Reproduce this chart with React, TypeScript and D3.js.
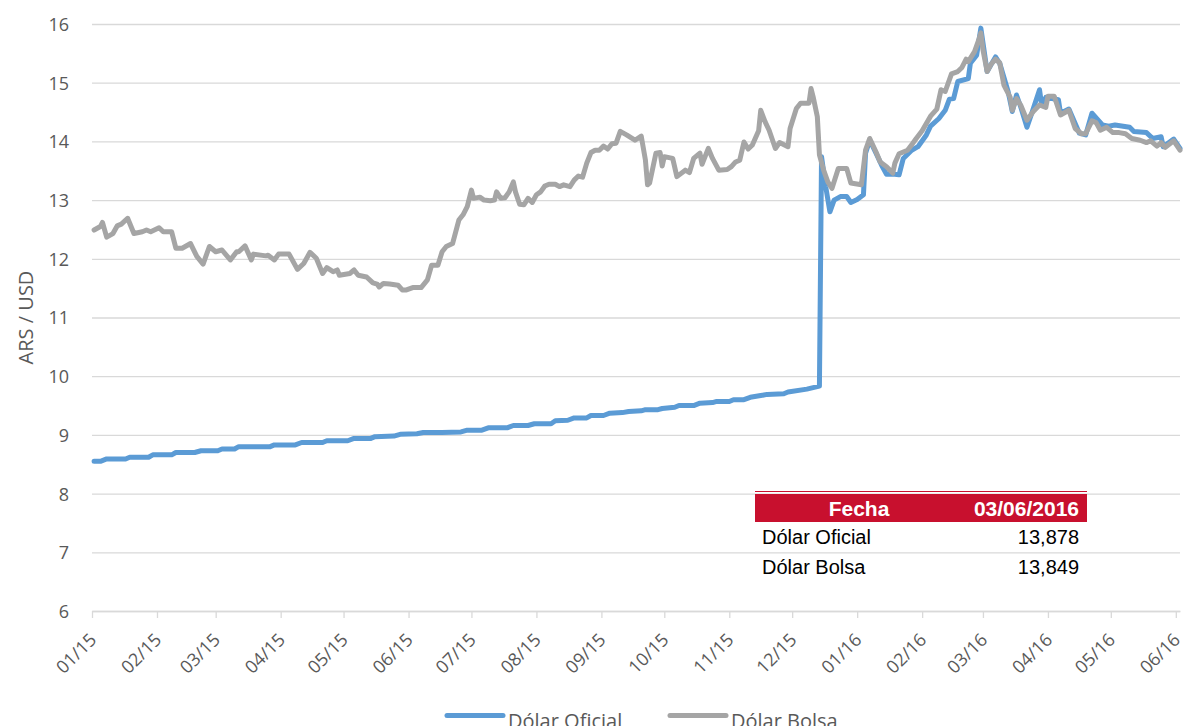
import { useEffect, useRef } from "react";
import * as d3 from "d3";

// Dólar Oficial (ARS per USD)
const oficial: [string, number][] = [
  ["2015-01-02", 8.55], ["2015-01-05", 8.55], ["2015-01-08", 8.59], ["2015-01-17", 8.59],
  ["2015-01-19", 8.62], ["2015-01-28", 8.62], ["2015-01-30", 8.66], ["2015-02-08", 8.66],
  ["2015-02-10", 8.70], ["2015-02-19", 8.70], ["2015-02-22", 8.73], ["2015-03-02", 8.73],
  ["2015-03-04", 8.76], ["2015-03-10", 8.76], ["2015-03-12", 8.80], ["2015-03-27", 8.80],
  ["2015-03-29", 8.83], ["2015-04-08", 8.83], ["2015-04-11", 8.87], ["2015-04-21", 8.87],
  ["2015-04-23", 8.90], ["2015-05-03", 8.90], ["2015-05-06", 8.94], ["2015-05-14", 8.94],
  ["2015-05-16", 8.97], ["2015-05-25", 8.98], ["2015-05-28", 9.01], ["2015-06-05", 9.02],
  ["2015-06-08", 9.04], ["2015-06-17", 9.04], ["2015-06-26", 9.05], ["2015-06-29", 9.08],
  ["2015-07-06", 9.08], ["2015-07-09", 9.12], ["2015-07-18", 9.12], ["2015-07-21", 9.16],
  ["2015-07-28", 9.16], ["2015-07-31", 9.19], ["2015-08-08", 9.19], ["2015-08-10", 9.24],
  ["2015-08-16", 9.25], ["2015-08-19", 9.29], ["2015-08-25", 9.29], ["2015-08-27", 9.33],
  ["2015-09-02", 9.33], ["2015-09-05", 9.37], ["2015-09-11", 9.38], ["2015-09-14", 9.40],
  ["2015-09-20", 9.41], ["2015-09-22", 9.43], ["2015-09-28", 9.43], ["2015-09-30", 9.45],
  ["2015-10-06", 9.47], ["2015-10-08", 9.50], ["2015-10-15", 9.50], ["2015-10-18", 9.54],
  ["2015-10-24", 9.55], ["2015-10-26", 9.57], ["2015-11-01", 9.57], ["2015-11-03", 9.60],
  ["2015-11-08", 9.60], ["2015-11-11", 9.64], ["2015-11-16", 9.67], ["2015-11-19", 9.69],
  ["2015-11-27", 9.70], ["2015-11-29", 9.73], ["2015-12-08", 9.78], ["2015-12-14", 9.83],
  ["2015-12-15", 13.74], ["2015-12-17", 13.23], ["2015-12-19", 12.80], ["2015-12-21", 13.00],
  ["2015-12-24", 13.06], ["2015-12-27", 13.06], ["2015-12-29", 12.96], ["2016-01-01", 13.01],
  ["2016-01-04", 13.09], ["2016-01-05", 13.80], ["2016-01-07", 14.02], ["2016-01-10", 13.80],
  ["2016-01-13", 13.57], ["2016-01-15", 13.44], ["2016-01-19", 13.44], ["2016-01-21", 13.43],
  ["2016-01-23", 13.71], ["2016-01-27", 13.85], ["2016-01-30", 13.91], ["2016-02-03", 14.11],
  ["2016-02-05", 14.26], ["2016-02-09", 14.39], ["2016-02-12", 14.53], ["2016-02-14", 14.72],
  ["2016-02-16", 14.73], ["2016-02-18", 15.02], ["2016-02-23", 15.07], ["2016-02-24", 15.33],
  ["2016-02-27", 15.47], ["2016-02-29", 15.93], ["2016-03-03", 15.19], ["2016-03-07", 15.44],
  ["2016-03-09", 15.33], ["2016-03-13", 14.85], ["2016-03-15", 14.51], ["2016-03-17", 14.79],
  ["2016-03-19", 14.59], ["2016-03-22", 14.24], ["2016-03-24", 14.45], ["2016-03-28", 14.88],
  ["2016-03-29", 14.62], ["2016-03-31", 14.75], ["2016-04-06", 14.71], ["2016-04-07", 14.48],
  ["2016-04-11", 14.55], ["2016-04-16", 14.14], ["2016-04-19", 14.11], ["2016-04-22", 14.48],
  ["2016-04-27", 14.28], ["2016-04-30", 14.26], ["2016-05-03", 14.28], ["2016-05-10", 14.24],
  ["2016-05-12", 14.17], ["2016-05-18", 14.15], ["2016-05-21", 14.05], ["2016-05-25", 14.08],
  ["2016-05-26", 13.91], ["2016-05-31", 14.04], ["2016-06-03", 13.88],
];

// Dólar Bolsa (ARS per USD)
const bolsa: [string, number][] = [
  ["2015-01-02", 12.49], ["2015-01-05", 12.55], ["2015-01-06", 12.62], ["2015-01-08", 12.37],
  ["2015-01-11", 12.43], ["2015-01-13", 12.56], ["2015-01-15", 12.59], ["2015-01-18", 12.69],
  ["2015-01-21", 12.43], ["2015-01-25", 12.46], ["2015-01-27", 12.49], ["2015-01-29", 12.46],
  ["2015-02-02", 12.53], ["2015-02-04", 12.46], ["2015-02-08", 12.46], ["2015-02-10", 12.18],
  ["2015-02-13", 12.18], ["2015-02-17", 12.26], ["2015-02-20", 12.04], ["2015-02-23", 11.91],
  ["2015-02-26", 12.21], ["2015-03-01", 12.12], ["2015-03-04", 12.15], ["2015-03-08", 11.98],
  ["2015-03-11", 12.12], ["2015-03-12", 12.12], ["2015-03-15", 12.22], ["2015-03-18", 11.98],
  ["2015-03-19", 12.08], ["2015-03-25", 12.05], ["2015-03-26", 12.06], ["2015-03-29", 11.98],
  ["2015-03-31", 12.08], ["2015-04-05", 12.08], ["2015-04-09", 11.82], ["2015-04-12", 11.92],
  ["2015-04-15", 12.11], ["2015-04-18", 12.01], ["2015-04-21", 11.75], ["2015-04-23", 11.85],
  ["2015-04-26", 11.78], ["2015-04-28", 11.81], ["2015-04-29", 11.72], ["2015-05-04", 11.75],
  ["2015-05-06", 11.81], ["2015-05-08", 11.72], ["2015-05-12", 11.69], ["2015-05-15", 11.59],
  ["2015-05-17", 11.57], ["2015-05-18", 11.52], ["2015-05-20", 11.58], ["2015-05-23", 11.57],
  ["2015-05-27", 11.55], ["2015-05-29", 11.47], ["2015-05-31", 11.47], ["2015-06-03", 11.51],
  ["2015-06-07", 11.51], ["2015-06-10", 11.64], ["2015-06-12", 11.89], ["2015-06-15", 11.89],
  ["2015-06-17", 12.12], ["2015-06-19", 12.21], ["2015-06-22", 12.26], ["2015-06-25", 12.66],
  ["2015-06-27", 12.75], ["2015-06-29", 12.89], ["2015-07-01", 13.17], ["2015-07-02", 13.03],
  ["2015-07-05", 13.05], ["2015-07-07", 13.00], ["2015-07-10", 12.99], ["2015-07-12", 13.00],
  ["2015-07-13", 13.14], ["2015-07-15", 13.03], ["2015-07-17", 13.04], ["2015-07-19", 13.14],
  ["2015-07-21", 13.31], ["2015-07-22", 13.14], ["2015-07-24", 12.93], ["2015-07-26", 12.92],
  ["2015-07-28", 13.03], ["2015-07-30", 12.96], ["2015-08-01", 13.09], ["2015-08-03", 13.14],
  ["2015-08-05", 13.24], ["2015-08-07", 13.27], ["2015-08-10", 13.27], ["2015-08-12", 13.23],
  ["2015-08-14", 13.26], ["2015-08-17", 13.23], ["2015-08-19", 13.34], ["2015-08-21", 13.41],
  ["2015-08-23", 13.39], ["2015-08-25", 13.63], ["2015-08-27", 13.81], ["2015-08-29", 13.85],
  ["2015-08-31", 13.85], ["2015-09-02", 13.92], ["2015-09-04", 13.87], ["2015-09-06", 13.96],
  ["2015-09-08", 13.97], ["2015-09-10", 14.17], ["2015-09-13", 14.11], ["2015-09-17", 14.02],
  ["2015-09-20", 14.09], ["2015-09-22", 13.68], ["2015-09-23", 13.26], ["2015-09-24", 13.29],
  ["2015-09-27", 13.80], ["2015-09-29", 13.81], ["2015-09-30", 13.58], ["2015-10-01", 13.74],
  ["2015-10-05", 13.71], ["2015-10-07", 13.40], ["2015-10-11", 13.51], ["2015-10-13", 13.47],
  ["2015-10-15", 13.71], ["2015-10-18", 13.80], ["2015-10-19", 13.61], ["2015-10-22", 13.88],
  ["2015-10-24", 13.71], ["2015-10-27", 13.51], ["2015-10-31", 13.52], ["2015-11-02", 13.57],
  ["2015-11-04", 13.65], ["2015-11-06", 13.68], ["2015-11-08", 13.99], ["2015-11-10", 13.87],
  ["2015-11-12", 13.94], ["2015-11-15", 14.18], ["2015-11-16", 14.53], ["2015-11-18", 14.34],
  ["2015-11-20", 14.19], ["2015-11-23", 13.88], ["2015-11-25", 13.98], ["2015-11-29", 13.91],
  ["2015-11-30", 14.22], ["2015-12-03", 14.56], ["2015-12-05", 14.65], ["2015-12-09", 14.65],
  ["2015-12-10", 14.90], ["2015-12-11", 14.76], ["2015-12-13", 14.42], ["2015-12-14", 13.77],
  ["2015-12-16", 13.51], ["2015-12-18", 13.31], ["2015-12-20", 13.20], ["2015-12-23", 13.54],
  ["2015-12-27", 13.54], ["2015-12-29", 13.29], ["2016-01-03", 13.26], ["2016-01-05", 13.85],
  ["2016-01-07", 14.05], ["2016-01-10", 13.82], ["2016-01-12", 13.65], ["2016-01-15", 13.57],
  ["2016-01-18", 13.46], ["2016-01-19", 13.63], ["2016-01-21", 13.79], ["2016-01-25", 13.85],
  ["2016-01-27", 13.94], ["2016-01-29", 14.04], ["2016-02-01", 14.18], ["2016-02-05", 14.43],
  ["2016-02-08", 14.55], ["2016-02-10", 14.88], ["2016-02-12", 14.85], ["2016-02-15", 15.15],
  ["2016-02-18", 15.19], ["2016-02-20", 15.26], ["2016-02-22", 15.40], ["2016-02-23", 15.36],
  ["2016-02-26", 15.53], ["2016-02-28", 15.73], ["2016-02-29", 15.85], ["2016-03-01", 15.56],
  ["2016-03-03", 15.19], ["2016-03-05", 15.32], ["2016-03-07", 15.40], ["2016-03-09", 15.34],
  ["2016-03-11", 14.96], ["2016-03-14", 14.75], ["2016-03-15", 14.53], ["2016-03-17", 14.73],
  ["2016-03-19", 14.62], ["2016-03-22", 14.36], ["2016-03-25", 14.51], ["2016-03-28", 14.62],
  ["2016-03-31", 14.58], ["2016-04-01", 14.77], ["2016-04-04", 14.77], ["2016-04-07", 14.45],
  ["2016-04-11", 14.53], ["2016-04-14", 14.22], ["2016-04-17", 14.13], ["2016-04-19", 14.13],
  ["2016-04-22", 14.35], ["2016-04-24", 14.32], ["2016-04-26", 14.19], ["2016-04-29", 14.24],
  ["2016-05-02", 14.15], ["2016-05-05", 14.15], ["2016-05-08", 14.13], ["2016-05-11", 14.05],
  ["2016-05-15", 14.02], ["2016-05-18", 13.98], ["2016-05-20", 14.01], ["2016-05-23", 13.92],
  ["2016-05-25", 13.98], ["2016-05-27", 13.90], ["2016-05-31", 14.01], ["2016-06-03", 13.85],
];

const yTicks = [6, 7, 8, 9, 10, 11, 12, 13, 14, 15, 16];
const seriesNames = ["Dólar Oficial", "Dólar Bolsa"];
const seriesColors = ["#5B9BD5", "#A5A5A5"];
const tableHeader = ["Fecha", "03/06/2016"];
const tableRows = [
  ["Dólar Oficial", "13,878"],
  ["Dólar Bolsa", "13,849"],
];

export default function App() {
  const width = 1183;
  const height = 726;
  const marginTop = 24;
  const marginRight = 3;
  const marginBottom = 115;
  const marginLeft = 92;
  const ref = useRef(null);

  useEffect(() => {
    const svg = d3.select(ref.current);
    svg.selectAll("*").remove();
    const parse = d3.timeParse("%Y-%m-%d");
    const font = "'Open Sans', sans-serif";

    const x = d3
      .scaleTime()
      .domain([parse("2015-01-01"), parse("2016-06-03")])
      .range([marginLeft, width - marginRight]);
    const y = d3
      .scaleLinear()
      .domain([6, 16])
      .range([height - marginBottom, marginTop]);

    // horizontal grid + y labels
    svg
      .append("g")
      .attr("transform", `translate(${marginLeft},0)`)
      .call(
        d3
          .axisLeft(y)
          .tickValues(yTicks)
          .tickSize(-(width - marginLeft - marginRight))
          .tickFormat((d) => String(d)),
      )
      .call((g) => g.select(".domain").remove())
      .call((g) => g.selectAll(".tick line").attr("stroke", "#D9D9D9").attr("stroke-width", 1.3))
      .call((g) =>
        g
          .selectAll(".tick text")
          .attr("x", -23)
          .attr("dy", "0.36em")
          .attr("fill", "#595959")
          .style("font-family", font)
          .style("font-size", "18px"),
      );

    // x axis
    svg
      .append("g")
      .attr("transform", `translate(0,${height - marginBottom})`)
      .call(
        d3
          .axisBottom(x)
          .ticks(d3.timeMonth.every(1))
          .tickFormat(d3.timeFormat("%m/%y"))
          .tickSize(7)
          .tickSizeOuter(0),
      )
      .call((g) => g.select(".domain").attr("stroke", "#D9D9D9").attr("stroke-width", 1.3))
      .call((g) => g.selectAll(".tick line").attr("stroke", "#D9D9D9").attr("stroke-width", 1.3))
      .call((g) =>
        g
          .selectAll(".tick text")
          .attr("x", 0)
          .attr("y", 0)
          .attr("dy", 0)
          .attr("text-anchor", "end")
          .attr("transform", "translate(5,30) rotate(-45)")
          .attr("fill", "#595959")
          .style("font-family", font)
          .style("font-size", "18px"),
      );

    // y axis title
    svg
      .append("text")
      .attr("transform", `translate(33,${(marginTop + height - marginBottom) / 2}) rotate(-90)`)
      .attr("text-anchor", "middle")
      .attr("fill", "#595959")
      .style("font-family", font)
      .style("font-size", "20px")
      .text("ARS / USD");

    const line = d3
      .line<[string, number]>()
      .x((d) => x(parse(d[0])))
      .y((d) => y(d[1]));

    [oficial, bolsa].forEach((series, i) => {
      svg
        .append("path")
        .datum(series)
        .attr("fill", "none")
        .attr("stroke", seriesColors[i])
        .attr("stroke-width", 5)
        .attr("stroke-linejoin", "round")
        .attr("stroke-linecap", "round")
        .attr("d", line);
    });

    // data table box
    const tLeft = 755;
    const tRight = 1087;
    const table = svg.append("g");
    table
      .append("line")
      .attr("x1", tLeft)
      .attr("x2", tRight)
      .attr("y1", 491.5)
      .attr("y2", 491.5)
      .attr("stroke", "#C8102E")
      .attr("stroke-width", 1.2);
    table
      .append("rect")
      .attr("x", tLeft)
      .attr("y", 494)
      .attr("width", tRight - tLeft)
      .attr("height", 28)
      .attr("fill", "#C8102E");
    table
      .append("text")
      .attr("x", 859)
      .attr("y", 515.5)
      .attr("text-anchor", "middle")
      .attr("fill", "#fff")
      .style("font-family", "'Liberation Sans', Arial, sans-serif")
      .style("font-weight", "bold")
      .style("font-size", "21px")
      .text(tableHeader[0]);
    table
      .append("text")
      .attr("x", 1079)
      .attr("y", 515.5)
      .attr("text-anchor", "end")
      .attr("fill", "#fff")
      .style("font-family", "'Liberation Sans', Arial, sans-serif")
      .style("font-weight", "bold")
      .style("font-size", "21px")
      .text(tableHeader[1]);
    tableRows.forEach((row, i) => {
      const yy = 544 + i * 30;
      table
        .append("text")
        .attr("x", 762)
        .attr("y", yy)
        .attr("fill", "#000")
        .style("font-family", "'Liberation Sans', Arial, sans-serif")
        .style("font-size", "20px")
        .text(row[0]);
      table
        .append("text")
        .attr("x", 1079)
        .attr("y", yy)
        .attr("text-anchor", "end")
        .attr("fill", "#000")
        .style("font-family", "'Liberation Sans', Arial, sans-serif")
        .style("font-size", "20px")
        .text(row[1]);
    });

    // legend
    const legendX = [447, 670];
    seriesNames.forEach((name, i) => {
      const lg = svg.append("g").attr("transform", `translate(${legendX[i]},715.5)`);
      lg.append("line")
        .attr("x1", 0)
        .attr("x2", 56)
        .attr("stroke", seriesColors[i])
        .attr("stroke-width", 5)
        .attr("stroke-linecap", "round");
      lg.append("text")
        .attr("x", 61)
        .attr("y", 12.5)
        .attr("fill", "#595959")
        .style("font-family", font)
        .style("font-size", "20px")
        .text(name);
    });
  }, []);

  return (
    <svg
      ref={ref}
      width={width}
      height={height}
      style={{ position: "absolute", left: 0, top: 0, background: "#fff" }}
    />
  );
}
